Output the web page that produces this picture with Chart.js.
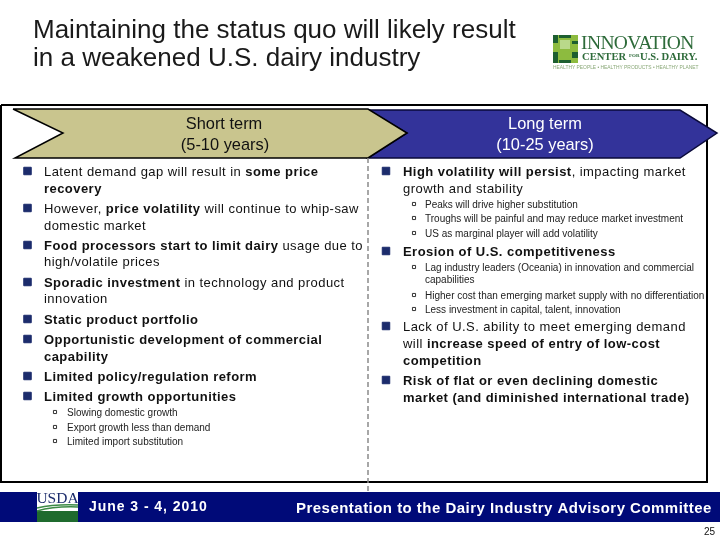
<!DOCTYPE html>
<html>
<head>
<meta charset="utf-8">
<title>Maintaining the status quo</title>
<style>
  html, body { margin: 0; padding: 0; background: #fff; }
  canvas { display: block; }
</style>
<script src="https://cdn.jsdelivr.net/npm/chart.js@4"></script>
</head>
<body>
<canvas id="slide" width="720" height="540"></canvas>
<script>
// slide text, **...** marks the bold runs
const titleLines = ['Maintaining the status quo will likely result', 'in a weakened U.S. dairy industry'];
const shortTermLabel = ['Short term', '(5-10 years)'];
const longTermLabel = ['Long term', '(10-25 years)'];
const leftMain = [
  'Latent demand gap will result in **some price**', '**recovery**',
  'However, **price volatility** will continue to whip-saw', 'domestic market',
  '**Food processors start to limit dairy** usage due to', 'high/volatile prices',
  '**Sporadic investment** in technology and product', 'innovation',
  '**Static product portfolio**',
  '**Opportunistic development of commercial**', '**capability**',
  '**Limited policy/regulation reform**',
  '**Limited growth opportunities**'
];
const leftSub = ['Slowing domestic growth', 'Export growth less than demand', 'Limited import substitution'];
const rightMain = [
  '**High volatility will persist**, impacting market', 'growth and stability',
  '**Erosion of U.S. competitiveness**',
  'Lack of U.S. ability to meet emerging demand', 'will **increase speed of entry of low-cost**', '**competition**',
  '**Risk of flat or even declining domestic**', '**market (and diminished international trade)**'
];
const rightSub = [
  'Peaks will drive higher substitution',
  'Troughs will be painful and may reduce market investment',
  'US as marginal player will add volatility',
  'Lag industry leaders (Oceania) in innovation and commercial', 'capabilities',
  'Higher cost than emerging market supply with no differentiation',
  'Less investment in capital, talent, innovation'
];
const footerDate = 'June 3 - 4, 2010';
const footerTitle = 'Presentation to the Dairy Industry Advisory Committee';
const pageNumber = '25';
const logoLines = ['INNOVATION', 'CENTER', 'FOR', 'U.S. DAIRY.', 'HEALTHY PEOPLE • HEALTHY PRODUCTS • HEALTHY PLANET'];

// layout, in slide pixels
const LEFT_X = 44, RIGHT_X = 403, LEFT_SUB_X = 67, RIGHT_SUB_X = 425;
const TEXT_NUDGE = 1;
const leftMainY = [171, 188, 208, 225, 245, 261, 282, 298, 319, 339, 356, 376, 396];
const leftBulletY = [171, 208, 245, 282, 319, 339, 376, 396];
const leftSubY = [412, 427, 441];
const rightMainY = [171, 188, 251, 326, 343, 360, 380, 397];
const rightBulletY = [171, 251, 326, 380];
const rightSubY = [204, 218, 233, 267, 279, 295, 309];
const rightSubBulletY = [204, 218, 233, 267, 295, 309];

const FONT = '"Liberation Sans", Arial, sans-serif';
const NAVY = '#1c2c6c';

function shape(points, color, extra) {
  return Object.assign({
    data: points.map(p => ({ x: p[0], y: p[1] })),
    showLine: true, tension: 0, pointRadius: 0, borderWidth: 0,
    borderColor: color, backgroundColor: color, fill: 'shape', clip: false
  }, extra);
}

function markers(x, ys, radius, fill, stroke) {
  return {
    data: ys.map(y => ({ x, y })),
    showLine: false, pointStyle: 'rect', pointRadius: radius, pointBorderWidth: 1,
    pointBackgroundColor: fill, pointBorderColor: stroke
  };
}

const datasets = [
  shape([[1, 105], [707, 105], [707, 482], [1, 482], [1, 105]], '#000', { fill: false, borderWidth: 2 }),
  shape([[368, 110], [680, 110], [717, 133], [680, 158], [368, 158], [407, 133], [368, 110]], '#33339a', { borderColor: '#0a0a3a', borderWidth: 1.5 }),
  shape([[13, 109], [368, 109], [407, 133], [368, 158], [15, 158], [63, 133], [13, 109]], '#c9c58e', { borderColor: '#000', borderWidth: 1.5 }),
  shape([[368, 158], [368, 492]], '#8a8a8a', { fill: false, borderWidth: 1.5, borderDash: [5, 3] }),
  shape([[0, 492], [720, 492], [720, 522], [0, 522]], '#000a78'),
  markers(27.5, leftBulletY, 5.3, NAVY, NAVY),
  markers(386, rightBulletY, 5.3, NAVY, NAVY),
  markers(55, leftSubY, 2.2, '#fff', '#333'),
  markers(414, rightSubBulletY, 2.2, '#fff', '#333')
];
// drawn in array order, chart.js paints lower indexes on top unless told otherwise
datasets.forEach((d, i) => { d.order = datasets.length - i; });

function richText(ctx, line, x, y, size, color, spacing) {
  let cursor = x;
  ctx.fillStyle = color;
  ctx.textAlign = 'left';
  ctx.textBaseline = 'middle';
  line.split('**').forEach((run, i) => {
    const bold = i % 2 === 1;
    ctx.font = (bold ? 'bold ' : '') + size + 'px ' + FONT;
    ctx.letterSpacing = spacing + 'px';
    ctx.fillText(run, cursor, y + TEXT_NUDGE);
    cursor += ctx.measureText(run).width;
  });
  ctx.letterSpacing = '0px';
}

function centered(ctx, text, x, y, font, color) {
  ctx.font = font;
  ctx.fillStyle = color;
  ctx.textAlign = 'center';
  ctx.textBaseline = 'middle';
  ctx.fillText(text, x, y);
}

function drawLogos(ctx, X, Y) {
  // innovation center mark
  ctx.fillStyle = '#8dbb3f';
  ctx.fillRect(X(553), Y(35), 25, 28);
  ctx.fillStyle = '#1d5f30';
  [[553, 35, 5, 8], [559, 35, 12, 3], [553, 52, 5, 11], [559, 60, 12, 3], [572, 41, 6, 3], [572, 52, 6, 6]].forEach(r => {
    ctx.fillRect(X(r[0]), Y(r[1]), r[2], r[3]);
  });
  ctx.fillStyle = '#b9d98a';
  ctx.fillRect(X(560), Y(40), 10, 9);
  ctx.fillStyle = '#2e6b3a';
  ctx.textBaseline = 'middle';
  ctx.textAlign = 'left';
  ctx.font = '19.5px "Liberation Serif", serif';
  ctx.letterSpacing = '-0.6px';
  ctx.fillText(logoLines[0], X(581), Y(43.5));
  ctx.font = 'bold 10.6px "Liberation Serif", serif';
  ctx.letterSpacing = '0px';
  ctx.fillText(logoLines[1], X(582), Y(57));
  ctx.font = 'bold 5px "Liberation Serif", serif';
  ctx.fillText(logoLines[2], X(629), Y(56));
  ctx.font = 'bold 10.6px "Liberation Serif", serif';
  ctx.fillText(logoLines[3], X(640), Y(57));
  ctx.fillStyle = '#8aa878';
  ctx.font = '4.9px ' + FONT;
  ctx.fillText(logoLines[4], X(553), Y(68));

  // usda shield
  ctx.fillStyle = '#fff';
  ctx.fillRect(X(37), Y(491), 41, 31);
  ctx.fillStyle = '#1f6b2e';
  ctx.fillRect(X(37), Y(511), 41, 11);
  ctx.strokeStyle = '#3c8a45';
  ctx.lineWidth = 1.5;
  [[511, 506, 507], [508, 504, 505]].forEach(c => {
    ctx.beginPath();
    ctx.moveTo(X(37), Y(c[0]));
    ctx.quadraticCurveTo(X(55), Y(c[1]), X(78), Y(c[2]));
    ctx.stroke();
  });
  centered(ctx, 'USDA', X(57.5), Y(498.5), '15.5px "Liberation Serif", serif', '#1c2c6c');
}

const slideText = {
  id: 'slideText',
  afterDatasetsDraw(chart) {
    const ctx = chart.ctx;
    const X = v => chart.scales.x.getPixelForValue(v);
    const Y = v => chart.scales.y.getPixelForValue(v);
    ctx.save();

    ctx.textAlign = 'left';
    ctx.textBaseline = 'middle';
    ctx.fillStyle = '#1a1a1a';
    ctx.font = '26px ' + FONT;
    ctx.fillText(titleLines[0], X(33), Y(31));
    ctx.fillText(titleLines[1], X(33), Y(59));

    centered(ctx, shortTermLabel[0], X(224), Y(124), '16.4px ' + FONT, '#111');
    centered(ctx, shortTermLabel[1], X(225), Y(145), '16.4px ' + FONT, '#111');
    centered(ctx, longTermLabel[0], X(545), Y(124), '16.4px ' + FONT, '#fff');
    centered(ctx, longTermLabel[1], X(545), Y(145), '16.4px ' + FONT, '#fff');

    leftMain.forEach((t, i) => richText(ctx, t, X(LEFT_X), Y(leftMainY[i]), 13, '#111', 0.45));
    rightMain.forEach((t, i) => richText(ctx, t, X(RIGHT_X), Y(rightMainY[i]), 13, '#111', 0.45));
    leftSub.forEach((t, i) => richText(ctx, t, X(LEFT_SUB_X), Y(leftSubY[i]), 10, '#222', 0));
    rightSub.forEach((t, i) => richText(ctx, t, X(RIGHT_SUB_X), Y(rightSubY[i]), 10, '#222', 0));

    drawLogos(ctx, X, Y);

    ctx.textAlign = 'left';
    ctx.fillStyle = '#fff';
    ctx.font = 'bold 14px ' + FONT;
    ctx.letterSpacing = '0.95px';
    ctx.fillText(footerDate, X(89), Y(507.5));
    ctx.font = 'bold 15px ' + FONT;
    ctx.letterSpacing = '0.47px';
    ctx.fillText(footerTitle, X(296), Y(508.5));
    ctx.letterSpacing = '0px';

    ctx.fillStyle = '#111';
    ctx.textAlign = 'right';
    ctx.font = '10px ' + FONT;
    ctx.fillText(pageNumber, X(715), Y(532));
    ctx.restore();
  }
};

new Chart(document.getElementById('slide'), {
  type: 'scatter',
  data: { datasets },
  plugins: [slideText],
  options: {
    responsive: false,
    animation: false,
    devicePixelRatio: 1,
    layout: { padding: 0, autoPadding: false },
    plugins: { legend: { display: false }, tooltip: { enabled: false } },
    scales: {
      x: { type: 'linear', min: 0, max: 720, display: false },
      y: { type: 'linear', min: 0, max: 540, reverse: true, display: false }
    }
  }
});
</script>
</body>
</html>
